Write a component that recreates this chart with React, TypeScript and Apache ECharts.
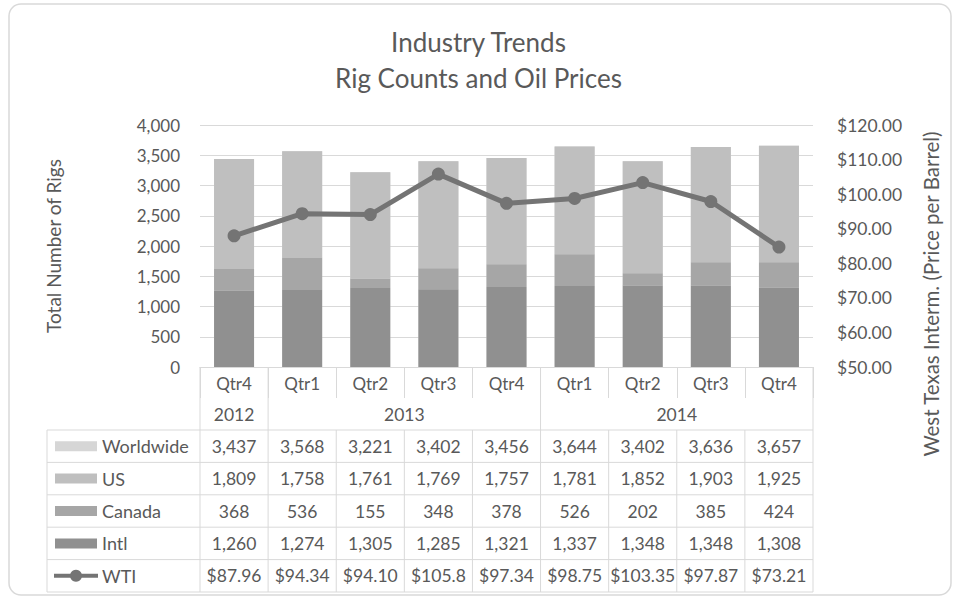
import React, { useEffect, useRef } from "react";
import * as echarts from "echarts";

// ---- data ----
const quarters = ["Qtr4", "Qtr1", "Qtr2", "Qtr3", "Qtr4", "Qtr1", "Qtr2", "Qtr3", "Qtr4"];
const yearGroups = [
  { label: "2012", from: 0, to: 0 },
  { label: "2013", from: 1, to: 4 },
  { label: "2014", from: 5, to: 8 },
];
const worldwide = [3437, 3568, 3221, 3402, 3456, 3644, 3402, 3636, 3657];
const us = [1809, 1758, 1761, 1769, 1757, 1781, 1852, 1903, 1925];
const canada = [368, 536, 155, 348, 378, 526, 202, 385, 424];
const intl = [1260, 1274, 1305, 1285, 1321, 1337, 1348, 1348, 1308];
// WTI values as printed in the data table
const wtiTable = ["$87.96", "$94.34", "$94.10", "$105.8", "$97.34", "$98.75", "$103.35", "$97.87", "$73.21"];
// WTI values as plotted by the line in the picture (last point drawn near $84.7)
const wtiPlotted = [87.96, 94.34, 94.1, 105.8, 97.34, 98.75, 103.35, 97.87, 84.7];
const leftTicks = { min: 0, max: 4000, interval: 500 };
const rightTicks = { min: 50, max: 120, interval: 10 };

const C = {
  worldwide: "#d6d6d6",
  us: "#bfbfbf",
  canada: "#a6a6a6",
  intl: "#909090",
  wti: "#747474",
  text: "#595959",
  grid: "#d9d9d9",
};
const FONT = "Lato";

export default function App() {
  const ref = useRef<HTMLDivElement>(null);
  useEffect(() => {
    if (!ref.current) return;
    const chart = echarts.init(ref.current, null, { renderer: "svg" });
    const G = { left: 200, top: 125, width: 613, height: 242 };
    const bottom = G.top + G.height;
    const catIds = quarters.map((q, i) => `${i}-${q}`);

    chart.setOption({
      animation: false,
      title: {
        text: "Industry Trends\nRig Counts and Oil Prices",
        left: "center",
        top: 19,
        textStyle: { fontFamily: FONT, fontSize: 26, fontWeight: "normal", color: C.text, lineHeight: 36 },
      },
      grid: { ...G },
      xAxis: {
        type: "category",
        data: catIds,
        axisLine: { show: true, lineStyle: { color: C.grid, width: 1 } },
        axisTick: { show: true, length: 31, interval: 0, lineStyle: { color: C.grid } },
        axisLabel: {
          interval: 0,
          margin: 8,
          color: C.text,
          fontFamily: FONT,
          fontSize: 17,
          formatter: (_v: string, idx: number) => quarters[idx],
        },
      },
      yAxis: [
        {
          type: "value",
          ...leftTicks,
          axisLine: { show: false },
          axisTick: { show: false },
          splitLine: { lineStyle: { color: C.grid, width: 1 } },
          axisLabel: {
            margin: 20,
            color: C.text,
            fontFamily: FONT,
            fontSize: 17,
            formatter: (v: number) => v.toLocaleString("en-US"),
          },
        },
        {
          type: "value",
          ...rightTicks,
          axisLine: { show: false },
          axisTick: { show: false },
          splitLine: { show: false },
          axisLabel: {
            margin: 24,
            color: C.text,
            fontFamily: FONT,
            fontSize: 17.5,
            formatter: (v: number) => "$" + v.toFixed(2),
          },
        },
      ],
      series: [
        { name: "Worldwide", type: "bar", data: worldwide, barWidth: 40, barGap: "-100%", itemStyle: { color: C.worldwide } },
        { name: "Intl", type: "bar", stack: "rigs", data: intl, barWidth: 40, barGap: "-100%", itemStyle: { color: C.intl } },
        { name: "Canada", type: "bar", stack: "rigs", data: canada, barWidth: 40, barGap: "-100%", itemStyle: { color: C.canada } },
        { name: "US", type: "bar", stack: "rigs", data: us, barWidth: 40, barGap: "-100%", itemStyle: { color: C.us } },
        {
          name: "WTI",
          type: "line",
          yAxisIndex: 1,
          data: wtiPlotted,
          symbol: "circle",
          symbolSize: 13,
          lineStyle: { color: C.wti, width: 5 },
          itemStyle: { color: C.wti },
          z: 5,
        },
      ],
    });

    // ---- data table (positions from the category axis) ----
    const cx = (i: number) => chart.convertToPixel({ xAxisIndex: 0 }, i) as number;
    const bw = cx(1) - cx(0);
    const edge = (i: number) => cx(0) - bw / 2 + i * bw;
    const tableLeft = 47;
    const rowTop = 430;
    const rowH = 32.4;
    const rows = [
      { label: "Worldwide", kind: "bar", color: C.worldwide, cells: worldwide.map((v) => v.toLocaleString("en-US")) },
      { label: "US", kind: "bar", color: C.us, cells: us.map((v) => v.toLocaleString("en-US")) },
      { label: "Canada", kind: "bar", color: C.canada, cells: canada.map((v) => v.toLocaleString("en-US")) },
      { label: "Intl", kind: "bar", color: C.intl, cells: intl.map((v) => v.toLocaleString("en-US")) },
      { label: "WTI", kind: "line", color: C.wti, cells: wtiTable },
    ];
    const ls = { stroke: C.grid, lineWidth: 1 };
    const txt = (text: string, x: number, y: number, align = "center", size = 17.5) => ({
      type: "text",
      silent: true,
      style: {
        text,
        x,
        y,
        fill: C.text,
        font: `${size}px ${FONT}`,
        fontFamily: FONT,
        fontSize: size,
        align,
        textAlign: align,
        verticalAlign: "middle",
        textVerticalAlign: "middle",
      },
    });
    const g: any[] = [];
    // outer border
    g.push({
      type: "rect",
      silent: true,
      shape: { x: 9, y: 4, width: 942, height: 591, r: 12 },
      style: { fill: "none", stroke: C.grid, lineWidth: 1.5 },
    });
    // axis titles
    g.push({ ...txt("Total Number of Rigs", 0, 0, "center", 19), x: 53, y: bottom - G.height / 2, rotation: Math.PI / 2 });
    g.push({ ...txt("West Texas Interm. (Price per Barrel)", 0, 0, "center", 20.5), x: 931, y: 294, rotation: Math.PI / 2 });
    // year rows
    yearGroups.forEach((yg) => {
      g.push({ type: "line", silent: true, shape: { x1: edge(yg.from), y1: bottom, x2: edge(yg.from), y2: rowTop }, style: ls });
      g.push(txt(yg.label, (edge(yg.from) + edge(yg.to + 1)) / 2, 414));
    });
    g.push({ type: "line", silent: true, shape: { x1: edge(9), y1: bottom, x2: edge(9), y2: rowTop }, style: ls });
    // horizontal table lines
    for (let k = 0; k <= rows.length; k++) {
      const y = rowTop + k * rowH;
      g.push({ type: "line", silent: true, shape: { x1: tableLeft, y1: y, x2: edge(9), y2: y }, style: ls });
    }
    // vertical table lines
    const tBottom = rowTop + rows.length * rowH;
    g.push({ type: "line", silent: true, shape: { x1: tableLeft, y1: rowTop, x2: tableLeft, y2: tBottom }, style: ls });
    for (let i = 0; i <= quarters.length; i++) {
      g.push({ type: "line", silent: true, shape: { x1: edge(i), y1: rowTop, x2: edge(i), y2: tBottom }, style: ls });
    }
    // rows
    rows.forEach((r, k) => {
      const yc = rowTop + k * rowH + rowH / 2;
      if (r.kind === "bar") {
        g.push({ type: "rect", silent: true, shape: { x: 55, y: yc - 5, width: 42, height: 10 }, style: { fill: r.color } });
      } else {
        g.push({ type: "line", silent: true, shape: { x1: 54, y1: yc, x2: 98, y2: yc }, style: { stroke: r.color, lineWidth: 4 } });
        g.push({ type: "circle", silent: true, shape: { cx: 76, cy: yc, r: 6 }, style: { fill: r.color } });
      }
      g.push(txt(r.label, 102, yc, "left", 18));
      r.cells.forEach((c, i) => g.push(txt(c, cx(i), yc)));
    });
    chart.setOption({ graphic: g });

    return () => chart.dispose();
  }, []);

  return (
    <div
      ref={ref}
      style={{ position: "fixed", left: 0, top: 0, width: 957, height: 600, background: "#ffffff" }}
    />
  );
}
